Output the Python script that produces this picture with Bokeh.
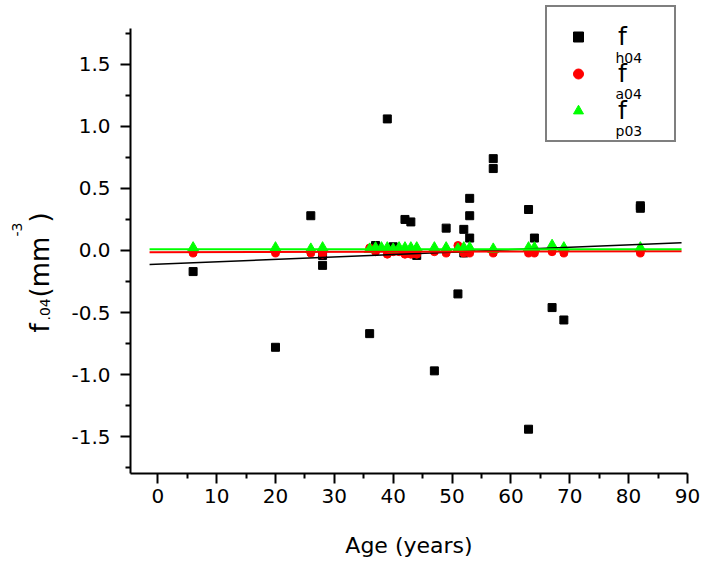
import math
from bokeh.plotting import figure
from bokeh.models import Range1d, FixedTicker, Label, Legend, LegendItem, NumeralTickFormatter
from bokeh.embed import file_html
from bokeh.resources import INLINE

# ---- data ----
age_h = [6, 20, 26, 28, 28, 36, 37, 39, 40, 42, 43, 44, 47, 49, 51, 52, 52, 53, 53, 53,
         57, 57, 63, 63, 64, 67, 69, 82, 82]
f_h04 = [-0.17, -0.78, 0.28, -0.12, -0.04, -0.67, 0.04, 1.06, 0.03, 0.25, 0.23, -0.04,
         -0.97, 0.18, -0.35, 0.17, -0.02, 0.42, 0.28, 0.10, 0.74, 0.66, 0.33, -1.44,
         0.10, -0.46, -0.56, 0.36, 0.34]

age_a = [6, 20, 26, 28, 36, 37, 39, 40, 41, 42, 43, 44, 47, 49, 51, 52, 53, 57, 63, 64,
         67, 69, 82]
f_a04 = [-0.02, -0.02, -0.02, -0.03, 0.02, -0.01, -0.03, -0.01, -0.01, -0.03, -0.03,
         -0.03, -0.01, -0.02, 0.04, -0.02, -0.02, -0.02, -0.02, -0.02, -0.01, -0.02, -0.02]

age_p = [6, 20, 26, 28, 36, 37, 38, 39, 40, 41, 42, 43, 44, 47, 49, 51, 52, 53, 57, 63,
         64, 67, 69, 82]
f_p03 = [0.02, 0.02, 0.01, 0.02, 0.01, 0.02, 0.02, 0.02, 0.01, 0.02, 0.02, 0.02, 0.02,
         0.02, 0.02, 0.01, 0.02, 0.02, 0.01, 0.02, 0.02, 0.04, 0.02, 0.02]

fit_x = [-1.4, 89.0]
fit_h = [-0.113, 0.062]
fit_a = [-0.014, -0.006]
fit_p = [0.010, 0.010]

x_ticks = [0, 10, 20, 30, 40, 50, 60, 70, 80, 90]
x_minor = [5, 15, 25, 35, 45, 55, 65, 75, 85]
y_ticks = [-1.5, -1.0, -0.5, 0.0, 0.5, 1.0, 1.5]
y_tick_labels = ["-1.5", "-1.0", "-0.5", "0.0", "0.5", "1.0", "1.5"]
y_minor = [-1.75, -1.25, -0.75, -0.25, 0.25, 0.75, 1.25, 1.75]

x_axis_bounds = (-4.64, 90.0)
y_axis_bounds = (-1.7965, 1.788)

legend_labels = ["f", "f", "f"]
legend_subs = ["h04", "a04", "p03"]
x_title = "Age (years)"

FONT = "DejaVu Sans"
W, H = 701, 563

# the frame covers the whole canvas; axes are pinned at the data corner
p = figure(width=W, height=H, output_backend="svg", toolbar_location=None,
           x_range=Range1d(-26.73, 92.39), y_range=Range1d(-2.522, 2.014),
           min_border=0)
p.outline_line_color = None
p.xgrid.visible = False
p.ygrid.visible = False
p.background_fill_color = "white"
p.border_fill_color = "white"

for ax in (p.xaxis[0], p.yaxis[0]):
    ax.axis_line_width = 2
    ax.axis_line_color = "black"
    ax.major_tick_line_width = 2
    ax.minor_tick_line_width = 2
    ax.major_tick_line_color = "black"
    ax.minor_tick_line_color = "black"
    ax.major_tick_out = 10
    ax.major_tick_in = 0
    ax.minor_tick_out = 5
    ax.minor_tick_in = 0
    ax.major_label_text_font = FONT
    ax.major_label_text_font_size = "20px"
    ax.major_label_text_color = "black"

xa = p.xaxis[0]
xa.fixed_location = y_axis_bounds[0]
xa.bounds = x_axis_bounds
xa.ticker = FixedTicker(ticks=x_ticks, minor_ticks=x_minor)
xa.major_label_standoff = 6
xa.axis_label = x_title
xa.axis_label_text_font = FONT
xa.axis_label_text_font_size = "22px"
xa.axis_label_text_font_style = "normal"
xa.axis_label_text_color = "black"
xa.axis_label_standoff = 26

ya = p.yaxis[0]
ya.fixed_location = x_axis_bounds[0]
ya.bounds = y_axis_bounds
ya.ticker = FixedTicker(ticks=y_ticks, minor_ticks=y_minor)
ya.formatter = NumeralTickFormatter(format="0.0")
ya.major_label_overrides = {t: s for t, s in zip(y_ticks, y_tick_labels)}
ya.major_label_standoff = 10

r_h = p.scatter(age_h, f_h04, marker="square", size=8, fill_color="black", line_color="black")
r_a = p.scatter(age_a, f_a04, marker="circle", size=8, fill_color="red", line_color="red")
r_p = p.scatter(age_p, f_p03, marker="triangle", size=11, fill_color="#00ff00", line_color="#00ff00")

p.line(fit_x, fit_h, line_color="black", line_width=1.5)
p.line(fit_x, fit_a, line_color="red", line_width=2)
p.line(fit_x, fit_p, line_color="#00ff00", line_width=2)

legend = Legend(
    items=[LegendItem(label=legend_labels[i], renderers=[r]) for i, r in enumerate([r_h, r_a, r_p])],
    location=(545, H - 142), orientation="vertical", margin=0,
    padding=15, spacing=8, glyph_width=32, glyph_height=25,
    label_standoff=24, label_width=41,
    label_text_font=FONT, label_text_font_size="25px", label_text_color="black",
    border_line_color="black", border_line_width=2,
    background_fill_alpha=0.0,
)
p.add_layout(legend)

# legend subscripts (screen units, origin at bottom-left of the canvas/frame)
for sub, py in zip(legend_subs, [57, 93, 130]):
    p.add_layout(Label(x=615, y=H - py, x_units="screen", y_units="screen", text=sub,
                       text_font=FONT, text_font_size="14px", text_color="black",
                       text_align="left", text_baseline="alphabetic", level="overlay"))

# y axis title f_{.04} (mm^{-3}) built from pieces, rotated
ytitle_parts = [("f", 39, 332, "26px"), (".04", 44, 320, "14px"), ("(mm", 39, 297, "26px"),
                ("-3", 16, 236, "14px"), (")", 39, 222, "26px")]
for txt, px, py, fs in ytitle_parts:
    p.add_layout(Label(x=px, y=H - py, x_units="screen", y_units="screen", text=txt,
                       angle=math.pi / 2, text_font=FONT, text_font_size=fs,
                       text_color="black", text_align="left", text_baseline="alphabetic",
                       level="overlay"))

open("out.html", "w").write(file_html(p, INLINE))
